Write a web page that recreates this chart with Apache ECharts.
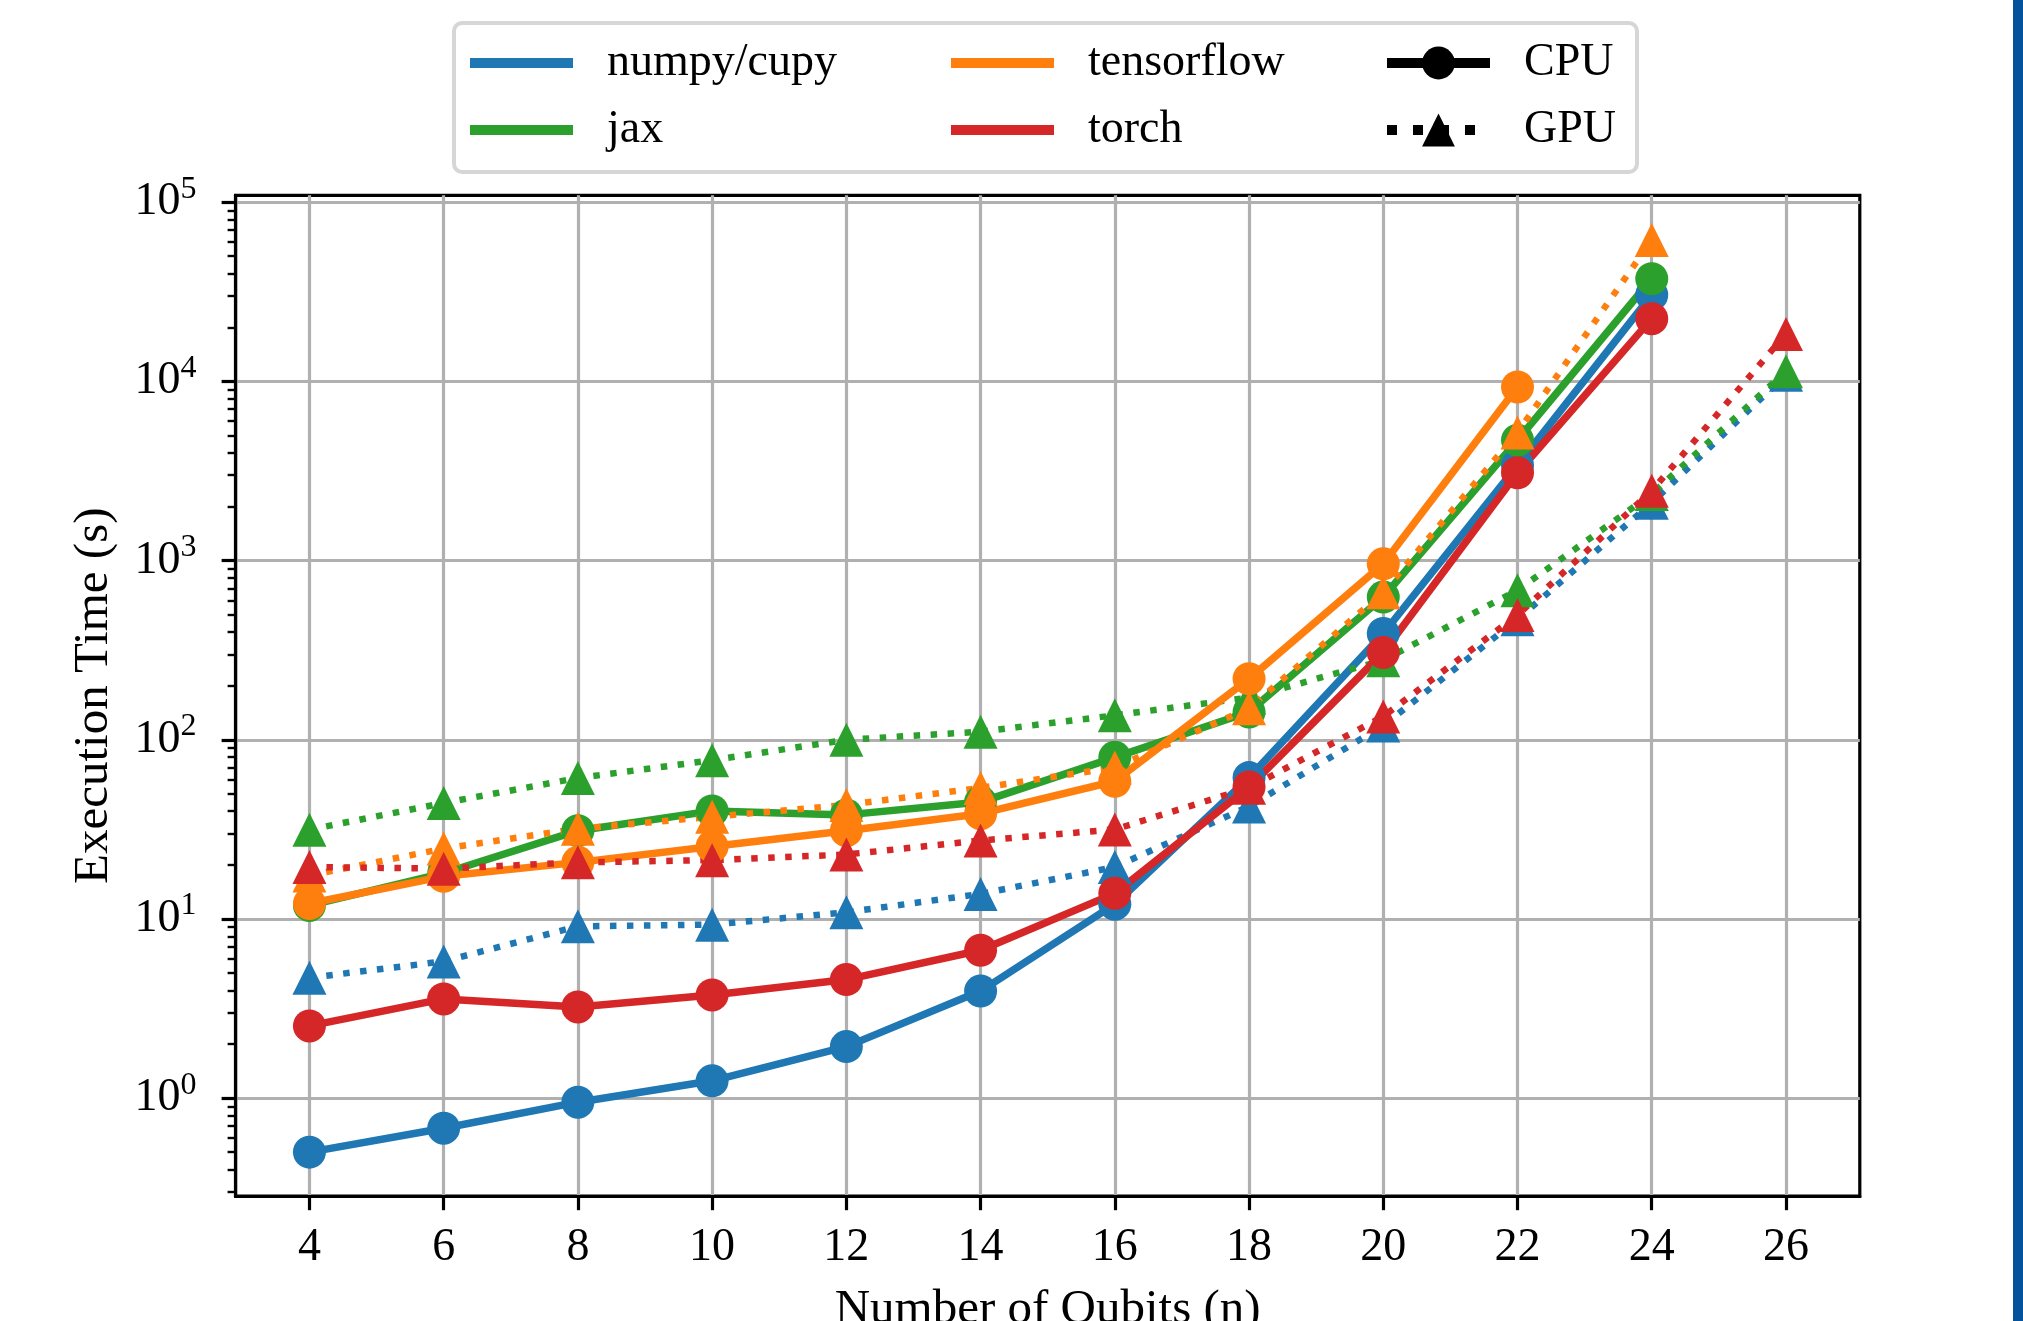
<!DOCTYPE html>
<html>
<head>
<meta charset="utf-8">
<title>Execution time vs number of qubits</title>
<script src="https://cdn.jsdelivr.net/npm/echarts@6.0.0/dist/echarts.min.js"></script>
<style>
  html, body { margin: 0; padding: 0; background: #fff; }
  #chart { width: 2023px; height: 1321px; }
</style>
</head>
<body>
<div id="chart"></div>
<script>
// number of qubits (x positions)
const qubits = [4, 6, 8, 10, 12, 14, 16, 18, 20, 22, 24, 26];

// execution time (s); null = no point
const numpyCpu = [0.50, 0.68, 0.95, 1.25, 1.94, 3.96, 12.1, 61.5, 392, 3400, 30400, null];
const numpyGpu = [4.7, 5.8, 9.1, 9.3, 10.9, 13.8, 19.5, 42.5, 120, 470, 2100, 10900];
const jaxCpu = [11.9, 18.0, 31.1, 40.1, 38.1, 44.9, 79.8, 143, 626, 4700, 37400, null];
const jaxGpu = [31.5, 44.4, 61.2, 76.9, 100, 111, 137, 172, 278, 683, 2350, 11400];
const tfCpu = [12.2, 17.3, 20.7, 25.4, 31.1, 38.7, 58.7, 219, 959, 9310, null, null];
const tfGpu = [17.5, 24.7, 31.9, 37.2, 43.3, 53.9, 70, 150, 666, 5180, 61500, null];
const torchCpu = [2.53, 3.58, 3.23, 3.77, 4.59, 6.69, 13.9, 54.5, 307, 3090, 22400, null];
const torchGpu = [19.5, 19.1, 20.7, 21.3, 22.9, 27.4, 31.6, 54, 135, 497, 2450, 18400];

// tick labels
const xTicks = qubits;
const yTicks = [1, 10, 100, 1000, 10000, 100000];

const colors = {
  numpy: "#1f77b4",
  jax: "#2ca02c",
  tf: "#ff7f0e",
  torch: "#d62728",
};

const FONT = "Liberation Serif";
const yMin = 0.2838;
const yMax = 109270;

// minor ticks 2..9 x 10^k (matplotlib style)
const yMinor = [];
for (let k = -1; k <= 4; k++) {
  for (let m = 2; m <= 9; m++) {
    const v = m * Math.pow(10, k);
    if (v > yMin && v < yMax) yMinor.push(v);
  }
}

function pairs(arr) {
  return qubits.map((q, i) => [q, arr[i]]);
}

function cpuSeries(name, arr, color) {
  return {
    type: "line",
    name: name,
    data: pairs(arr),
    symbol: "circle",
    symbolSize: 33,
    lineStyle: { width: 7.5, color: color },
    itemStyle: { color: color },
    emphasis: { disabled: true },
  };
}

function gpuSeries(name, arr, color) {
  return {
    type: "line",
    name: name,
    data: pairs(arr),
    symbol: "triangle",
    symbolSize: 34,
    lineStyle: { width: 6.5, color: color, type: [6.5, 10.5], cap: "butt" },
    itemStyle: { color: color },
    emphasis: { disabled: true },
  };
}

const legendText = { fontFamily: FONT, fontSize: 46, color: "#000", padding: [0, 0, 0, 29] };

const option = {
  animation: false,
  backgroundColor: "#fff",
  textStyle: { fontFamily: FONT },
  grid: {
    left: 235.6,
    right: 163.2,
    top: 195.3,
    bottom: 124.8,
    outerBoundsMode: "none",
    containLabel: false,
    show: true,
    borderColor: "#000",
    borderWidth: 3.2,
    backgroundColor: "transparent",
  },
  graphic: [
    {
      type: "rect",
      z: -1,
      shape: { x: 454, y: 23, width: 1183, height: 149, r: 8 },
      style: { fill: "#fff", stroke: "#d6d6d6", lineWidth: 4 },
    },
    {
      type: "rect",
      shape: { x: 2013, y: 0, width: 10, height: 1321 },
      style: { fill: "#04529b" },
    },
  ],
  legend: [
    {
      data: ["numpy/cupy", "jax"],
      orient: "vertical",
      left: 465,
      top: 35,
      icon: "rect",
      itemWidth: 103,
      itemHeight: 10,
      itemGap: 21,
      selectedMode: false,
      textStyle: legendText,
    },
    {
      data: ["tensorflow", "torch"],
      orient: "vertical",
      left: 946,
      top: 35,
      icon: "rect",
      itemWidth: 103,
      itemHeight: 10,
      itemGap: 21,
      selectedMode: false,
      textStyle: legendText,
    },
    {
      data: ["CPU", "GPU"],
      orient: "vertical",
      left: 1377,
      top: 35,
      itemWidth: 103,
      itemHeight: 41,
      itemGap: 21,
      selectedMode: false,
      lineStyle: { width: 10 },
      textStyle: legendText,
    },
  ],
  xAxis: {
    type: "value",
    min: 2.9,
    max: 27.1,
    axisLine: { show: true, lineStyle: { color: "#000", width: 3.2 } },
    axisTick: {
      show: true,
      length: 14,
      customValues: xTicks,
      lineStyle: { color: "#000", width: 3.2 },
    },
    axisLabel: {
      customValues: xTicks,
      margin: 29,
      fontSize: 46,
      fontFamily: FONT,
      color: "#000",
    },
    splitLine: { show: true, lineStyle: { color: "#b0b0b0", width: 3.2 } },
    name: "Number of Qubits (n)",
    nameLocation: "middle",
    nameGap: 89,
    nameTextStyle: { fontSize: 49, fontFamily: FONT, color: "#000" },
  },
  yAxis: [
    {
      type: "log",
      logBase: 10,
      position: "left",
      min: yMin,
      max: yMax,
      axisLine: { show: true, lineStyle: { color: "#000", width: 3.2 } },
      axisTick: {
        show: true,
        length: 14,
        customValues: yTicks,
        lineStyle: { color: "#000", width: 3.2 },
      },
      axisLabel: {
        customValues: yTicks,
        margin: 39,
        color: "#000",
        formatter: (v) => "{b|10}{s|" + Math.round(Math.log10(v)) + "}",
        rich: {
          b: { fontSize: 46, fontFamily: FONT, lineHeight: 58, color: "#000" },
          s: { fontSize: 32, fontFamily: FONT, lineHeight: 32, verticalAlign: "top", color: "#000" },
        },
      },
      splitLine: { show: true, lineStyle: { color: "#b0b0b0", width: 3.2 } },
      name: "Execution Time (s)",
      nameLocation: "middle",
      nameRotate: 90,
      nameGap: 117,
      nameTextStyle: { fontSize: 49, fontFamily: FONT, color: "#000" },
    },
    {
      // minor ticks only
      type: "log",
      logBase: 10,
      position: "left",
      offset: 0,
      min: yMin,
      max: yMax,
      axisLine: { show: false },
      axisTick: {
        show: true,
        length: 8,
        customValues: yMinor,
        lineStyle: { color: "#000", width: 2.4 },
      },
      axisLabel: { show: false },
      splitLine: { show: false },
    },
  ],
  series: [
    cpuSeries("numpy/cupy", numpyCpu, colors.numpy),
    gpuSeries("numpy/cupy", numpyGpu, colors.numpy),
    cpuSeries("jax", jaxCpu, colors.jax),
    gpuSeries("jax", jaxGpu, colors.jax),
    cpuSeries("tensorflow", tfCpu, colors.tf),
    gpuSeries("tensorflow", tfGpu, colors.tf),
    cpuSeries("torch", torchCpu, colors.torch),
    gpuSeries("torch", torchGpu, colors.torch),
    // legend-only entries for the line styles
    {
      type: "line",
      name: "CPU",
      data: [],
      symbol: "circle",
      lineStyle: { width: 10, color: "#000" },
      itemStyle: { color: "#000" },
    },
    {
      type: "line",
      name: "GPU",
      data: [],
      symbol: "triangle",
      lineStyle: { width: 10, color: "#000", type: [10, 16], cap: "butt" },
      itemStyle: { color: "#000" },
    },
  ],
};

let chartDom = document.getElementById("chart");
let myChart = echarts.init(chartDom);
myChart.setOption(option);
</script>
</body>
</html>
